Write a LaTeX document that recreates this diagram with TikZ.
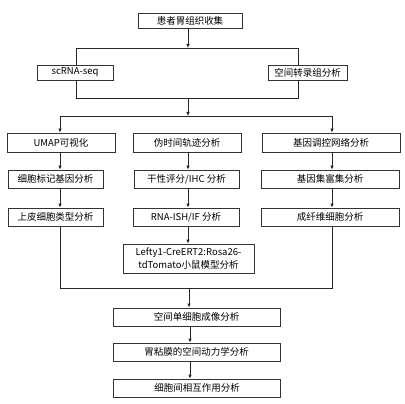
\documentclass[tikz,border=0pt]{standalone}
\usepackage{fontspec}
\setmainfont{Noto Sans CJK SC}
\usetikzlibrary{arrows.meta,positioning}
\tikzset{
    %Define standard arrow tip
    >={Latex[length=4pt,width=3.6pt]},
    %Define style for boxes
    stepbox/.style={
      rectangle,
      draw=black!80, line width=0.8pt,
      minimum height=18pt,
      inner sep=1pt,
      font=\fontsize{9.5}{12.5}\selectfont,
      align=center},
    % Define arrow style
    arr/.style={
      ->,
      line width=0.8pt,
      draw=black!85},
    % Define plain line style
    link/.style={
      line width=0.8pt,
      draw=black!85}
}

\begin{document}
\begin{tikzpicture}[x=1pt, y=-1pt]
    \useasboundingbox (0,0) rectangle (405,404);
    % column positions
    \coordinate (colL) at (60,0);
    \coordinate (colM) at (188,0);
    \coordinate (colR) at (332,0);
    \coordinate (colB) at (190,0);
    % boxes
    \node[stepbox, minimum width=104pt, minimum height=15pt] (collect) at (190,20.5) {患者胃组织收集};
    \node[stepbox, minimum width=76pt, minimum height=15pt] (scrna) at (75,72.5) {scRNA-seq};
    \node[stepbox, minimum width=79pt, minimum height=15pt] (spatial) at (307.5,72.5) {空间转录组分析};
    \node[stepbox, minimum width=108pt, minimum height=19pt] (umap) at (61,142.5) {UMAP可视化};
    \node[stepbox, minimum width=108pt, minimum height=19pt] (pseudo) at (187,142.5) {伪时间轨迹分析};
    \node[stepbox, minimum width=138pt, minimum height=19pt] (grn) at (331,142.5) {基因调控网络分析};
    \node[stepbox, minimum width=95pt] (marker) at (55.5,179) {细胞标记基因分析};
    \node[stepbox, minimum width=105pt] (stem) at (186.5,179) {干性评分/IHC 分析};
    \node[stepbox, minimum width=138pt] (gsea) at (330,179) {基因集富集分析};
    \node[stepbox, minimum width=95pt] (epi) at (55.5,217) {上皮细胞类型分析};
    \node[stepbox, minimum width=106pt] (ish) at (186,217) {RNA-ISH/IF 分析};
    \node[stepbox, minimum width=138pt] (fib) at (330,217) {成纤维细胞分析};
    \node[stepbox, minimum width=131pt, minimum height=29pt] (lefty) at (188.5,258.5) {Lefty1-CreERT2:Rosa26-\\tdTomato小鼠模型分析};
    \node[stepbox, minimum width=167pt] (imaging) at (196.5,317) {空间单细胞成像分析};
    \node[stepbox, minimum width=167pt] (dynamics) at (196.5,352) {胃粘膜的空间动力学分析};
    \node[stepbox, minimum width=167pt] (interact) at (197,388) {细胞间相互作用分析};
    % top split
    \coordinate (topmid) at (188,48);
    \coordinate (topL) at (76,48);
    \coordinate (topR) at (298,48);
    \draw[arr] (collect.south -| topmid) -- (topmid);
    \draw[link] (scrna.north -| topL) -- (topL) -- (topR) -- (spatial.north -| topR);
    % merge and split again
    \coordinate (joinL) at (76,98);
    \coordinate (joinR) at (298,98);
    \coordinate (joinmid) at (188,98);
    \coordinate (splitmid) at (188,116);
    \coordinate (splitL) at (60,116);
    \coordinate (splitR) at (332,116);
    \draw[link] (scrna.south -| joinL) -- (joinL) -- (joinR) -- (spatial.south -| joinR);
    \draw[arr] (joinmid) -- (splitmid);
    \draw[link] (splitL) -- (splitR);
    \draw[arr] (splitL) -- (umap.north -| splitL);
    \draw[arr] (splitR) -- (grn.north -| splitR);
    % columns
    \draw[arr] (umap.south -| colL) -- (marker.north -| colL);
    \draw[arr] (marker.south -| colL) -- (epi.north -| colL);
    \draw[arr] (pseudo.south -| colM) -- (stem.north -| colM);
    \draw[arr] (stem.south -| colM) -- (ish.north -| colM);
    \draw[arr] (ish.south -| colM) -- (lefty.north -| colM);
    \draw[arr] (grn.south -| colR) -- (gsea.north -| colR);
    \draw[arr] (gsea.south -| colR) -- (fib.north -| colR);
    % bottom merge
    \coordinate (lowL) at (60,288);
    \coordinate (lowR) at (332,288);
    \coordinate (lowmid) at (189,288);
    \draw[link] (epi.south -| lowL) -- (lowL) -- (lowR) -- (fib.south -| lowR);
    \draw[arr] (lowmid) -- (imaging.north -| lowmid);
    \draw[arr] (imaging.south -| colB) -- (dynamics.north -| colB);
    \draw[arr] (dynamics.south -| colB) -- (interact.north -| colB);
\end{tikzpicture}
\end{document}
